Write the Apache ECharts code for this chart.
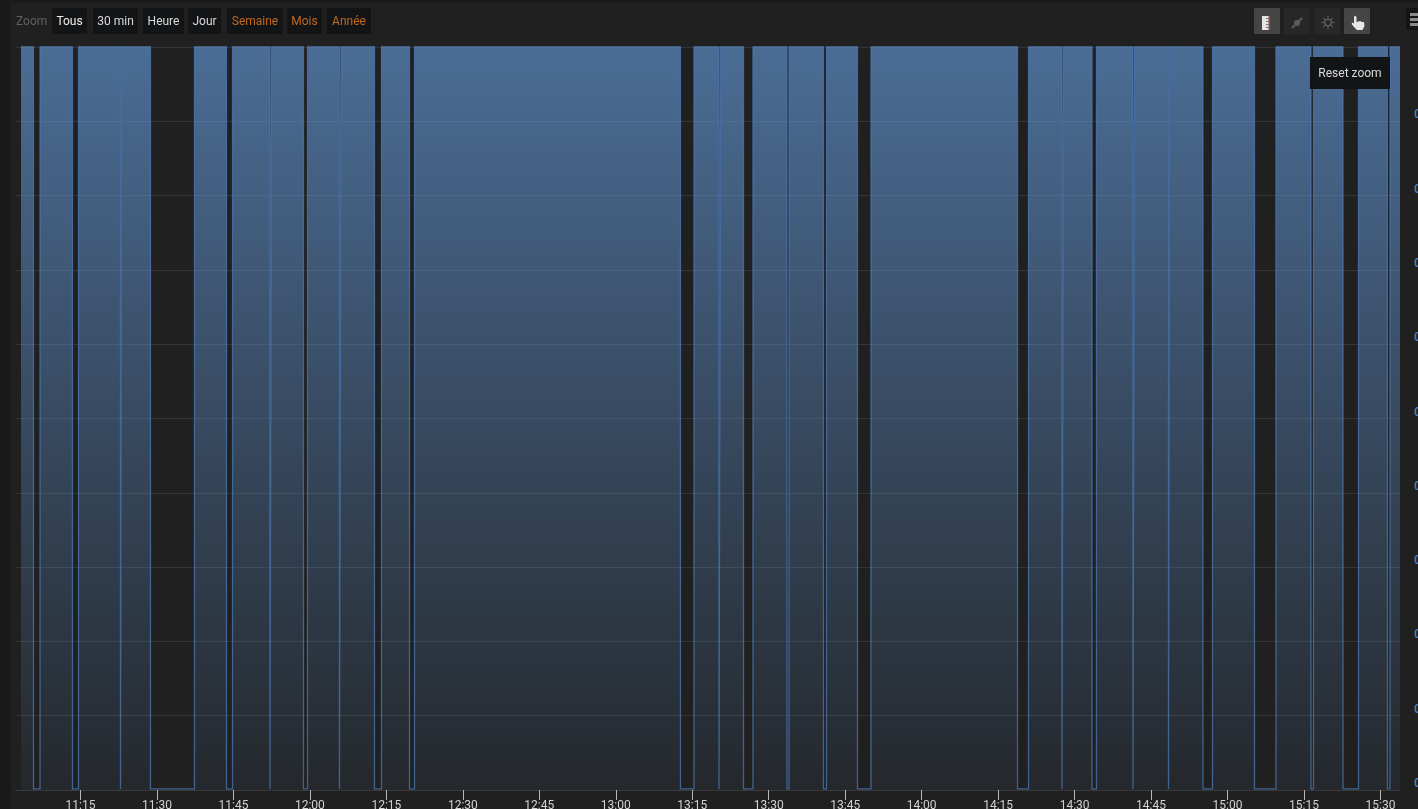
<!DOCTYPE html>
<html>
<head>
<meta charset="utf-8">
<style>html,body{margin:0;padding:0;background:#202020;overflow:hidden}#c{width:1418px;height:809px}</style>
<script src="https://cdn.jsdelivr.net/npm/echarts@6/dist/echarts.min.js"></script>
</head>
<body>
<div id="c"></div>
<script>
// Active periods, in minutes since midnight
var runStart = [663.33,667.06,674.61,683.04,697.36,704.82,712.47,719.53,726.10,734.04,740.52,795.34,800.54,806.91,813.98,821.33,830.06,860.96,867.82,874.29,881.75,888.61,897.05,909.50,916.86,925.69,931.87];
var runEnd   = [665.78,673.43,682.85,688.73,703.64,712.17,718.74,725.80,732.67,739.54,792.69,800.25,805.05,813.58,820.74,827.41,858.80,867.53,873.41,881.45,888.42,895.18,905.29,916.37,922.65,931.37,933.83];
var onValue = 100.2;
var offValue = 0.15;
var tickLabels = ['11:15','11:30','11:45','12:00','12:15','12:30','12:45','13:00','13:15','13:30','13:45','14:00','14:15','14:30','14:45','15:00','15:15','15:30'];
var zoomButtons = ['Tous','30 min','Heure','Jour','Semaine','Mois','Année'];
var zoomColors = ['#eeeeee','#d8d9da','#d8d9da','#d8d9da','#c06a20','#c06a20','#c06a20'];
var zoomLefts = [52,93,143,188,227,287,327];
var zoomWidths = [35,45,41,33,56,35,44];

function toMin(s){var p=s.split(':');return +p[0]*60 + +p[1];}
function toLabel(v){var h=Math.floor(v/60),m=Math.round(v-h*60);return (h<10?'0':'')+h+':'+(m<10?'0':'')+m;}
var tickValues = tickLabels.map(toMin);

var lineData = [];
runStart.forEach(function(s,i){
  if(i>0) lineData.push([s,offValue]);
  lineData.push([s,onValue]);
  lineData.push([runEnd[i],onValue]);
  if(i<runStart.length-1) lineData.push([runEnd[i],offValue]);
});

function seg(x1,y1,x2,y2,color,w){return {type:'line',shape:{x1:x1,y1:y1,x2:x2,y2:y2},style:{stroke:color,lineWidth:w}};}

var g = [
  {type:'rect',shape:{x:0,y:0,width:11,height:809},style:{fill:'#191919'},silent:true},
  {type:'rect',shape:{x:0,y:0,width:1418,height:3},style:{fill:'#191919'},silent:true},
  {type:'text',x:16,y:22,style:{text:'Zoom',fill:'#5f5f5f',font:'12px Roboto',textVerticalAlign:'middle'}}
];
zoomButtons.forEach(function(t,i){
  g.push({type:'rect',shape:{x:zoomLefts[i],y:8,width:zoomWidths[i],height:26},style:{fill:'#131416'}});
  g.push({type:'text',x:zoomLefts[i]+zoomWidths[i]/2,y:22,style:{text:t,fill:zoomColors[i],font:'12px Roboto',textAlign:'center',textVerticalAlign:'middle'}});
});
// toolbar icon buttons
[[1254,'#454545'],[1284,'#272727'],[1314,'#272727'],[1344,'#454545']].forEach(function(b){
  g.push({type:'rect',shape:{x:b[0],y:8,width:26,height:26},style:{fill:b[1]}});
});
// ruler
g.push({type:'rect',shape:{x:1262,y:16,width:7,height:14},style:{fill:'#e4e4e4'}});
g.push({type:'rect',shape:{x:1268.5,y:16,width:1.5,height:14},style:{fill:'#b5423a'}});
[18,21,24,27].forEach(function(y){g.push(seg(1266,y+0.5,1269,y+0.5,'#777',1));});
// pin
g.push(seg(1292,28,1302,18,'#5c5c5c',2));
g.push({type:'circle',shape:{cx:1297,cy:23,r:3},style:{fill:'#5c5c5c'}});
// sun
g.push({type:'circle',shape:{cx:1328,cy:22.5,r:3.2},style:{fill:'none',stroke:'#5c5c5c',lineWidth:1.4}});
[[1328,16,1328,18.5],[1328,26,1328,29],[1321.5,22.5,1324.5,22.5],[1331.5,22.5,1334.5,22.5],[1323.4,17.9,1325.4,19.9],[1330.6,25.1,1332.6,27.1],[1323.4,27.1,1325.4,25.1],[1330.6,19.9,1332.6,17.9]].forEach(function(r){g.push(seg(r[0],r[1],r[2],r[3],'#5c5c5c',1.2));});
// hand
g.push({type:'polygon',shape:{points:[[1354,17],[1355,15.5],[1356.5,17],[1356.5,22],[1360,21],[1362,22],[1364,22],[1364.5,26],[1362.5,30],[1357,30],[1354.5,27.5],[1351.5,24],[1352.5,22.5],[1354,23.5]]},style:{fill:'#e6e6e6'}});
// hamburger
g.push({type:'rect',shape:{x:1406,y:8,width:12,height:22},style:{fill:'#131416'}});
[13,18,23].forEach(function(y){g.push({type:'rect',shape:{x:1410,y:y,width:8,height:3},style:{fill:'#8a8a8a'}});});
// tooltip
g.push({type:'rect',z:200,shape:{x:1310,y:57,width:80,height:32},style:{fill:'#131416'}});
g.push({type:'text',z:201,x:1350,y:73.5,style:{text:'Reset zoom',fill:'#d8d9da',font:'12px Roboto',textAlign:'center',textVerticalAlign:'middle'}});
g.forEach(function(e){if(e.z===undefined)e.z=100;});

var chart = echarts.init(document.getElementById('c'),null,{renderer:'canvas',width:1418,height:809});
chart.setOption({
  animation:false,
  backgroundColor:'#202020',
  textStyle:{fontFamily:'Roboto'},
  grid:{left:16,top:47,width:1384,height:743,containLabel:false,outerBoundsMode:'none'},
  xAxis:{
    type:'value',min:662.35,max:933.83,
    axisLine:{show:true,lineStyle:{color:'#3a3a3a',width:1}},
    axisTick:{show:true,length:10,customValues:tickValues,lineStyle:{color:'#b5b5b5',width:1}},
    axisLabel:{show:true,customValues:tickValues,formatter:function(v){return toLabel(v);},color:'#d0d2d4',fontSize:12,fontFamily:'Roboto',margin:10,showMinLabel:true,showMaxLabel:true,hideOverlap:false},
    splitLine:{show:false},minorTick:{show:false}
  },
  yAxis:{
    type:'value',position:'right',min:0,max:100,interval:10,
    axisLine:{show:false},axisTick:{show:false},
    axisLabel:{show:true,inside:false,margin:14,align:'left',verticalAlign:'bottom',showMaxLabel:false,color:'#4a7ab8',fontSize:12,fontWeight:'bold',fontFamily:'Roboto',formatter:function(){return '0';}},
    splitLine:{show:true,lineStyle:{color:'#353535',width:1}}
  },
  graphic:{elements:g},
  series:[{
    type:'line',data:lineData,showSymbol:false,symbol:'none',clip:true,silent:true,
    lineStyle:{color:'rgba(75,120,180,0.75)',width:1.3,join:'miter'},
    areaStyle:{origin:'start',opacity:1,color:new echarts.graphic.LinearGradient(0,0,0,1,[
      {offset:0,color:'rgba(95,145,205,0.68)'},
      {offset:1,color:'rgba(95,145,205,0.07)'}
    ])},
    itemStyle:{color:'#4b78b4'}
  }]
});
</script>
</body>
</html>
